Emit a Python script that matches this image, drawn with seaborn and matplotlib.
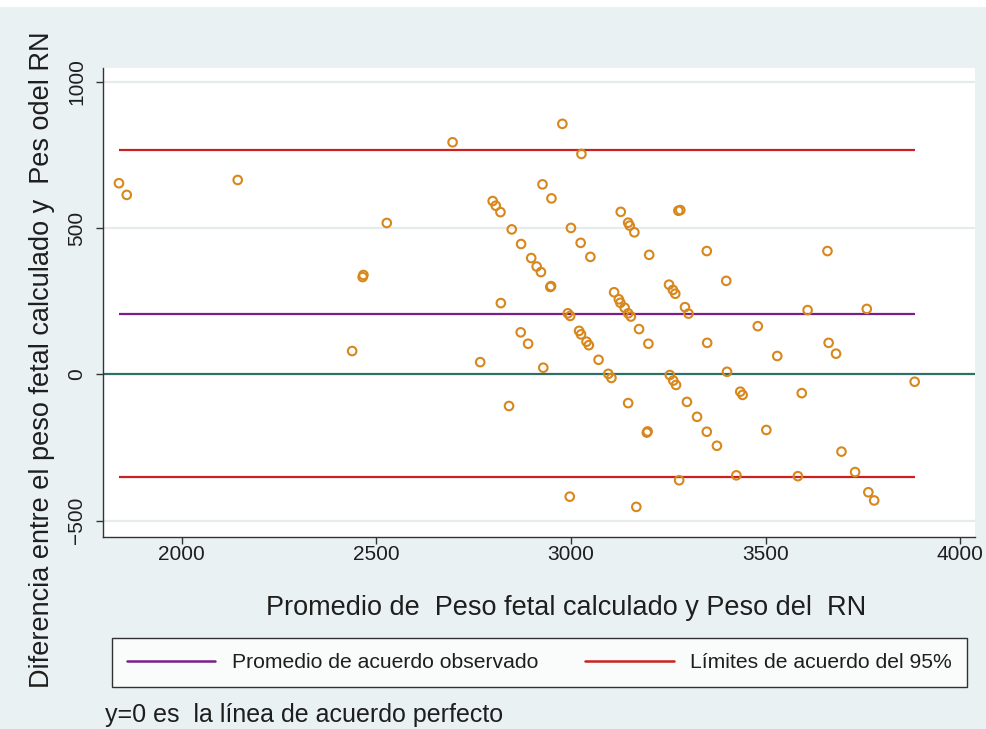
import numpy as np
import pandas as pd
import seaborn as sns
import matplotlib.pyplot as plt
from matplotlib.lines import Line2D
from matplotlib.patches import Rectangle

# average of the two weights (x) and their difference (y)
promedio = [1839, 1859, 2144, 2527, 2465, 2467, 2438, 2696, 2978, 3027,
            2927, 2950, 2799, 2807, 2819, 2848, 2872, 2898, 2912, 2923,
            2947, 2949, 2820, 3000, 3025, 3050, 3128, 3147, 3151, 3163,
            3201, 3252, 3262, 3268, 3276, 3281, 3111, 3123, 3127, 3138,
            3147, 3154, 2992, 2998, 3021, 3026, 3040, 3046, 3071, 3096,
            3104, 3175, 3199, 2871, 2890, 2767, 2929, 2841, 3147, 3195,
            3197, 2997, 3168, 3278, 3349, 3659, 3399, 3293, 3302, 3608,
            3760, 3350, 3480, 3530, 3662, 3681, 3401, 3254, 3263, 3270,
            3435, 3441, 3593, 3883, 3298, 3324, 3349, 3375, 3502, 3695,
            3730, 3425, 3583, 3764, 3779]
diferencia = [654, 614, 665, 518, 333, 340, 80, 794, 857, 754,
              650, 602, 593, 577, 555, 496, 446, 398, 369, 350,
              299, 302, 244, 501, 450, 402, 556, 519, 509, 486,
              409, 307, 289, 276, 560, 562, 281, 257, 245, 228,
              209, 198, 209, 200, 149, 137, 112, 100, 50, 2,
              -12, 155, 105, 144, 105, 42, 23, -108, -98, -199,
              -195, -418, -453, -362, 422, 422, 320, 230, 208, 220,
              224, 108, 165, 63, 108, 71, 9, -2, -21, -36,
              -59, -70, -64, -25, -94, -145, -196, -244, -190, -264,
              -334, -345, -348, -403, -431]

media_dif = 208
limite_sup = 768
limite_inf = -352

df = pd.DataFrame({"promedio": promedio, "diferencia": diferencia})

bg = "#EAF1F2"
c_pts = "#D8871C"
c_media = "#7B1E8C"
c_lim = "#CC2020"
c_cero = "#2F6F68"
c_txt = "#1E1E1E"

sns.set_theme(style="white")
plt.rcParams["font.family"] = ["Liberation Sans", "DejaVu Sans"]

fig = plt.figure(figsize=(9.87, 7.29), dpi=100, facecolor=bg)
fig.patches.append(Rectangle((0, 1 - 7 / 729), 1, 7 / 729, transform=fig.transFigure,
                             facecolor="white", edgecolor="none", zorder=-1))
ax = fig.add_axes([103 / 987, 1 - 537 / 729, 872 / 987, 469 / 729])
ax.set_facecolor("white")

ax.set_xlim(1798, 4038)
ax.set_ylim(-556, 1048)
ax.set_yticks([-500, 0, 500, 1000])
ax.set_xticks([2000, 2500, 3000, 3500, 4000])
for yv in [-500, 500, 1000]:
    ax.axhline(yv, color="#E6EBEC", lw=1.6, zorder=0)

ax.axhline(0, color=c_cero, lw=1.6, zorder=1)
x0, x1 = df["promedio"].min(), df["promedio"].max()
ax.hlines(media_dif, x0, x1, color=c_media, lw=1.6, zorder=1)
ax.hlines([limite_sup, limite_inf], x0, x1, color=c_lim, lw=1.6, zorder=1)

sns.scatterplot(data=df, x="promedio", y="diferencia", ax=ax, marker="o", s=38,
                facecolor="none", edgecolor=c_pts, linewidth=1.5, zorder=3)

for s in ["top", "right"]:
    ax.spines[s].set_visible(False)
for s in ["left", "bottom"]:
    ax.spines[s].set_color("#333333")
    ax.spines[s].set_linewidth(1.0)

ax.tick_params(axis="both", direction="out", length=5, width=1, color="#333333",
               labelsize=15, labelcolor=c_txt, bottom=True, left=True)
ax.tick_params(axis="x", pad=1)
ax.tick_params(axis="y", pad=7)
plt.setp(ax.get_yticklabels(), rotation=90, va="center")

ax.set_xlabel("")
ax.set_ylabel("")
fig.text(566 / 987, 1 - 608 / 729, "Promedio de  Peso fetal calculado y Peso del  RN",
         ha="center", va="center", fontsize=19.5, color=c_txt)
fig.text(42 / 987, 1 - 360 / 729, "Diferencia entre el peso fetal calculado y  Pes odel RN",
         rotation=90, ha="center", va="center", fontsize=19.5, color=c_txt)

handles = [Line2D([], [], color=c_media, lw=1.8),
           Line2D([], [], color=c_lim, lw=1.8)]
leg = fig.legend(handles, ["Promedio de acuerdo observado", "Límites de acuerdo del 95%"],
                 loc="lower left", ncol=2, mode="expand",
                 bbox_to_anchor=(112 / 987, 1 - 687 / 729, 855 / 987, 46 / 729),
                 frameon=True, fancybox=False, edgecolor="black", facecolor="white",
                 fontsize=15.2, handlelength=4.2, borderpad=0.7, borderaxespad=0)
leg.get_frame().set_linewidth(1.0)
for t in leg.get_texts():
    t.set_color(c_txt)

fig.text(105 / 987, 1 - 715 / 729, "y=0 es  la línea de acuerdo perfecto",
         ha="left", va="center", fontsize=18, color=c_txt)

fig.savefig("out.png", dpi=100, facecolor=bg)
